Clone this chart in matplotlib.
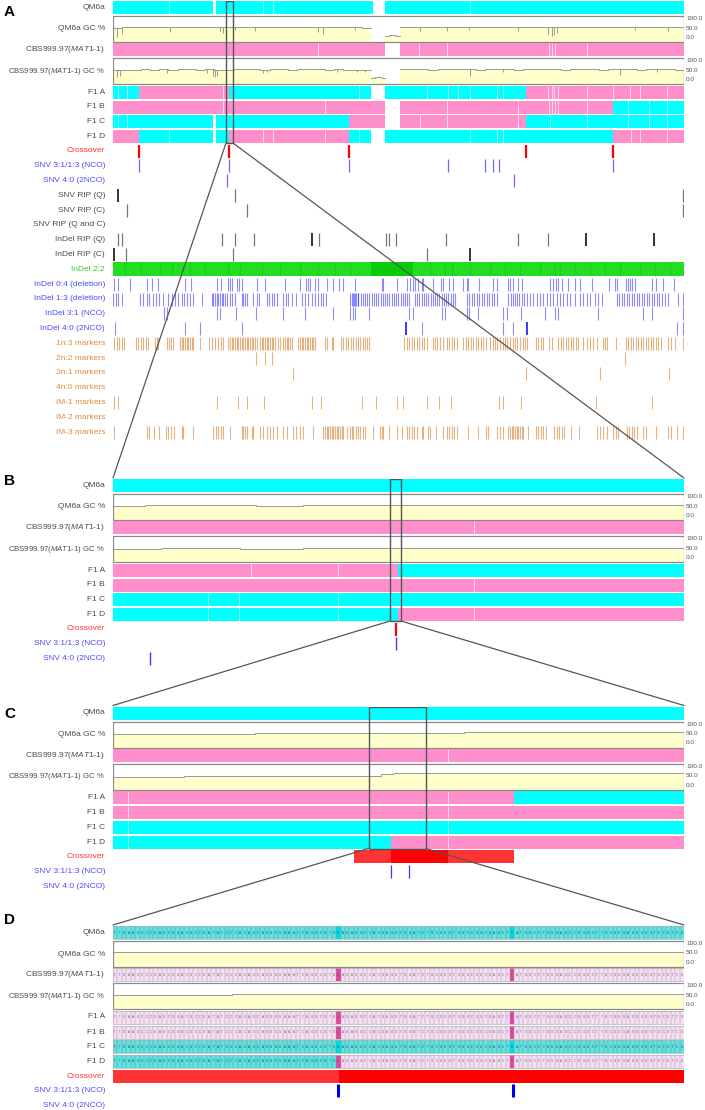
import numpy as np
import matplotlib.pyplot as plt
from matplotlib.patches import Rectangle, ConnectionPatch

plt.rcParams['font.family'] = ['Liberation Sans', 'DejaVu Sans']
plt.rcParams['mathtext.fontset'] = 'custom'
plt.rcParams['mathtext.rm'] = 'Liberation Sans'
plt.rcParams['mathtext.it'] = 'Liberation Sans:italic'

W, H = 705, 1110
X0, X1 = 113, 684          # window of every panel, in its own position units

CYAN = '#00ffff'
PINK = '#ff8fca'
GENO = {'Q': CYAN, 'C': PINK}
GC_FILL = '#ffffcc'
GC_LINE = '#8c8c8c'
BOX = '#8a8a8a'
RED = '#ff0000'
LBL_GRAY = '#4d4d4d'
LBL_RED = '#ff3333'
LBL_BLUE = '#4c4cff'
LBL_GREEN = '#2ecc2e'
LBL_ORANGE = '#e08c3a'
TICK_BLUE = '#0000ff'
ORANGE = '#d2731c'

# ---------------- panel A data (positions in window units) ----------------
A_SEGS = {
    'QM6a': [(113, 213, 'Q'), (216, 373, 'Q'), (385, 684, 'Q')],
    'CBS': [(113, 385, 'C'), (400, 684, 'C')],
    'F1 A': [(113, 139, 'Q'), (139, 229.3, 'C'), (229.3, 371, 'Q'), (385, 526, 'Q'), (526, 684, 'C')],
    'F1 B': [(113, 385, 'C'), (400, 612.7, 'C'), (612.7, 684, 'Q')],
    'F1 C': [(113, 213, 'Q'), (216, 349.3, 'Q'), (349.3, 385, 'C'), (400, 526, 'C'), (526, 684, 'Q')],
    'F1 D': [(113, 139, 'C'), (139, 213, 'Q'), (216, 229.3, 'Q'), (229.3, 349.3, 'C'), (349.3, 371, 'Q'),
             (385, 612.7, 'Q'), (612.7, 684, 'C')],
}
A_BOUNDS = {
    'QM6a': [168.7, 263.3, 273.3, 470],
    'CBS': [318, 419.3, 446.7, 549.3, 551.7, 555, 586.7],
    'F1 A': [118.3, 126.7, 222.7, 359.3, 426.7, 448.3, 458.3, 470, 496.7, 502.7, 548.3, 551.7, 554,
             558.3, 586.7, 613.3, 630, 640, 666.7],
    'F1 B': [222.7, 325, 446.7, 518.3, 549.3, 551.7, 555, 558.3, 586.7, 628.3, 649.3, 666.7],
    'F1 C': [118.3, 126.7, 420, 446.7, 518.3, 550, 586.7, 628.3, 649.3, 666.7],
    'F1 D': [169.3, 263.3, 273.3, 325, 359.3, 470, 496.7, 502.7, 630.7, 640, 666.7],
}
A_QGC = [
    (113, 371, [51, 54, 55, 54, 56, 55, 54, 56, 55, 53, 55, 56, 54, 55, 57, 55, 54, 56, 55, 54,
                55, 56, 55, 54, 53, 55, 54, 52]),
    (385, 400, [10, 16, 14, 8]),
    (400, 684, [54, 56, 55, 57, 56, 55, 54, 56, 55, 55, 54, 56, 57, 55, 54, 55, 56, 55, 54, 55,
                56, 57, 55, 54, 56, 55, 57, 54, 55, 53]),
]
A_QGC_DIPS = [(116.7, 5), (121.7, 20), (170, 30), (220, 35), (223, 25), (235, 40), (255, 35),
              (318, 30), (323, 20), (355, 40), (420, 35), (446.7, 35), (469, 40), (518, 35),
              (548, 20), (551.7, 10), (554, 15), (557, 25), (635, 40), (668, 35)]
A_CGC = [
    (113, 371, [50, 53, 54, 55, 54, 55, 53, 55, 56, 54, 55, 54, 53, 55, 56, 55, 54, 56, 55, 54,
                55, 56, 55, 54, 55, 53, 54, 52]),
    (371, 385, [12, 18, 15, 10]),
    (400, 684, [55, 56, 55, 54, 56, 55, 57, 55, 54, 56, 55, 55, 54, 56, 55, 57, 55, 54, 55, 56,
                55, 54, 56, 57, 55, 54, 56, 55, 55, 54]),
]
A_CGC_DIPS = [(116.7, 15), (120, 20), (166.7, 35), (206.7, 35), (213.3, 20), (215, 15),
              (217.3, 20), (263.3, 35), (266.7, 40), (336.7, 40), (356.7, 40), (365, 40),
              (470, 20), (503.3, 40), (620, 25), (656.7, 40)]

A_CROSSOVER = [139, 229.3, 349.3, 526, 612.7]
A_SNV_NCO = [139, 229.3, 349.3, 448.3, 485, 492.7, 499.3, 612.7]
A_SNV_2NCO = [227, 514]
A_SNV_RIP_Q = {'dark': [118.3], 'light': [235, 683.3]}
A_SNV_RIP_C = {'dark': [], 'light': [126.7, 247.3, 683.3]}
A_SNV_RIP_QC = {'dark': [], 'light': []}
A_INDEL_RIP_Q = {'dark': [312.3, 586.3, 654],
                 'light': [118.3, 122.3, 222, 235, 254.3, 319, 385.7, 389, 395.7, 446.3, 518.3, 548.3]}
A_INDEL_RIP_C = {'dark': [114, 470.3], 'light': [126.3, 233.3, 427]}
A_INDEL22_DARK = [125, 141, 160, 172, 190, 205, 228, 240, 262, 280, 300, 318, 335, 350,
                  430, 445, 452, 470, 490, 505, 520, 540, 555, 560, 575, 590, 605, 620, 640, 655, 670]
A_INDEL22_DENSE = [(371, 413)]
A_INDEL_04 = [114.3, 117.7, 130, 147.3, 151.7, 158.3, 185, 191, 216.7, 221, 227.7, 230, 232.3, 236.7,
              239, 242.3, 256.7, 265, 285, 300, 306, 307.7, 310, 315, 318.3, 326.7, 332.7, 339.3,
              343.3, 355, 381.7, 383.3, 396.7, 406.7, 410, 412.7, 415, 418.3, 421.7, 423.3, 432.7,
              441, 443.3, 449, 452.7, 463.3, 466.7, 468.3, 479.3, 492.7, 496.7, 508.3, 510, 513.3,
              518.3, 521.7, 550, 553.3, 556, 558.3, 561.7, 567.7, 575, 580, 591.7, 609.3, 615,
              616.7, 625.7, 628.3, 630, 632.3, 635, 651.7, 656, 663.3, 674]
A_INDEL_13 = [113.3, 116, 118.3, 121.7, 140, 142.7, 146.7, 149.3, 152.7, 156, 159, 162.7, 168.3,
              171.7, 175, 178.3, 181.7, 184, 186.7, 190, 192.7, 201.7, 211.7, 213.3, 215, 216.7,
              218.3, 220, 221.7, 223.3, 225, 226.7, 230, 232.3, 235, 241.7, 243.3, 245, 246.7,
              253.3, 256.7, 259.3, 266.7, 269.3, 271.7, 274, 276.7, 283.3, 286, 288.3, 291.7, 296,
              301.7, 305, 308.3, 311.7, 315, 318.3, 320.7, 323.3, 325.7, 350, 352.7, 355, 358.3,
              351.7, 354, 356, 358.3, 360.7, 362.7, 365, 367.3, 369.3, 371.7, 374, 376, 378.3,
              380.7, 382.7, 385, 387.3, 389.3, 391.7, 394, 396, 398.3, 400.7, 402.7, 405, 407.3,
              409.3, 415, 416.7, 419.3, 421.7, 424, 426, 428.3, 430.7, 432.7, 435, 437.3, 439.3,
              441.7, 444, 446, 448.3, 450.7, 452.7, 455, 466.7, 469.3, 471.7, 474, 476.7, 479.3,
              481.7, 484, 486.7, 489.3, 491.7, 494, 496.7, 508.3, 510.7, 512.7, 515, 517.3, 519.3,
              521.7, 524, 526.7, 530, 533.3, 536.7, 540, 543.3, 546.7, 550, 553.3, 556.7, 560,
              563.3, 566.7, 570, 575, 580, 583.3, 586.7, 590, 595, 598.3, 601.7, 616.7, 619.3,
              621.7, 624, 626.7, 629.3, 631.7, 634, 636.7, 639.3, 641.7, 644, 646.7, 649.3, 651.7,
              654, 656.7, 659.3, 661.7, 665, 668.3, 678.3, 683.3]
A_INDEL_31 = [164, 166.7, 217.3, 220, 236, 256, 282.7, 305, 333.3, 350, 352.7, 355, 369.3, 409.3,
              413.3, 441.7, 445, 467.3, 469.3, 477.7, 503.3, 507.3, 520.7, 545, 555, 558.3, 598.3,
              643.3, 651.7, 683.3]
A_INDEL_40 = {'dark': [406, 526.7], 'light': [115, 185, 200, 242.3, 421.7, 503.3, 512.7, 677.3, 683.3]}
A_M1N3 = [114.3, 116.7, 119.3, 121.7, 124, 136, 138.3, 140.7, 143.3, 145.7, 148.3, 155, 156.7, 158.3,
          166.7, 169, 170.7, 172.7, 180, 181.7, 183.3, 185, 186.7, 188.3, 190, 191.7, 193.3, 200,
          209.3, 211.7, 215, 218.3, 220.7, 222.7, 228.3, 230, 231.7, 233.3, 235, 236.7, 238.3, 240,
          241.7, 243.3, 245, 246.7, 248.3, 250, 251.7, 253.3, 255, 256.7, 260, 261.7, 263.3, 265,
          266.7, 268.3, 270, 271.7, 273.3, 275, 278.3, 280, 283.3, 285, 286.7, 288.3, 290, 291.7,
          298.3, 300, 301.7, 303.3, 305, 306.7, 308.3, 310, 311.7, 313.3, 315, 325, 326.7, 331.7,
          333.3, 340.7, 343.3, 346, 348.3, 350.7, 353.3, 356, 358.3, 360, 362.7, 365, 367.3, 369.3,
          404, 406.7, 409.3, 411.7, 414, 416.7, 419.3, 421.7, 424, 426.7, 432.7, 435, 437.3, 440,
          442.7, 446.7, 449.3, 451.7, 454, 456.7, 463.3, 466, 468.3, 470.7, 473.3, 476, 478.3,
          480.7, 483.3, 486, 490, 492.7, 495, 497.3, 500, 502.7, 505, 507.3, 510, 512.7, 515,
          517.3, 520, 522.7, 525, 527.3, 536, 538.3, 540.7, 543.3, 549.3, 551.7, 558.3, 560.7,
          563.3, 566, 568.3, 570.7, 573.3, 576, 578.3, 583.3, 586.7, 590, 593.3, 596.7, 602.7, 605,
          607.3, 616, 626, 628.3, 630.7, 633.3, 636, 638.3, 640.7, 643.3, 646, 648.3, 650.7, 653.3,
          656, 658.3, 660.7, 668.3, 670.7, 675, 683.3]
A_M2N2 = [256, 265, 271.7, 625]
A_M3N1 = [292.7, 526, 600, 669.3]
A_M4N0 = []
A_IM1 = [114, 118.3, 216.7, 237.7, 246.7, 264, 312.3, 321, 361.7, 376, 397.3, 403.3, 427.3, 439.3,
         450.7, 499.3, 503.3, 520.7, 596, 651.7]
A_IM2 = []
A_IM3 = [114, 146.7, 149.3, 154, 159.3, 165.7, 168.3, 170.7, 174, 181.7, 183.3, 193.3, 213.3, 216,
         218.3, 220.7, 223.3, 230, 241.7, 243.3, 245, 246.7, 251.7, 253.3, 260, 263.3, 266.7, 270,
         273.3, 276.7, 283.3, 286.7, 293.3, 296, 300, 303.3, 312.7, 323.3, 325, 326.7, 328.3, 330,
         331.7, 333.3, 335, 336.7, 338.3, 340, 341.7, 343.3, 346.7, 350, 351.7, 353.3, 356, 358.3,
         360, 362.7, 365, 372.7, 380, 381.7, 383.3, 389.3, 397.3, 401.7, 407.3, 409.3, 411.7, 414,
         416.7, 421.7, 423.3, 428.3, 430, 436, 443.3, 446.7, 449.3, 451.7, 454, 456.7, 468.3, 478.3,
         486, 488.3, 497.3, 500, 502.7, 508.3, 510, 511.7, 513.3, 515, 516.7, 518.3, 520, 521.7,
         523.3, 528.3, 536, 538.3, 540.7, 543.3, 546, 554, 556.7, 559.3, 561.7, 564, 570.7, 579.3,
         597.3, 600, 602.7, 606.7, 613.3, 616, 618.3, 626.7, 629.3, 631.7, 634, 636.7, 643.3, 646,
         656, 668.3, 670.7, 676.7, 683.3]
A_ZOOM = (226, 233)

# ---------------- panel B data ----------------
B_SEGS = {
    'QM6a': [(113, 684, 'Q')],
    'CBS': [(113, 684, 'C')],
    'F1 A': [(113, 397.7, 'C'), (397.7, 684, 'Q')],
    'F1 B': [(113, 684, 'C')],
    'F1 C': [(113, 684, 'Q')],
    'F1 D': [(113, 397.7, 'Q'), (397.7, 684, 'C')],
}
B_BOUNDS = {'QM6a': [], 'CBS': [474], 'F1 A': [251, 338], 'F1 B': [474],
            'F1 C': [208, 239, 338], 'F1 D': [208, 239, 338, 474]}
B_QGC = [(113, 684, [52, 52, 53, 55, 55, 55, 56, 54, 53, 51, 51, 51, 53, 57, 57, 55, 54, 54, 55, 55,
                     54, 53, 53, 54, 54, 54, 55, 55, 55, 56, 56, 55, 55, 54, 55, 56])]
B_CGC = [(113, 684, [48, 49, 49, 51, 52, 52, 52, 51, 49, 47, 47, 48, 50, 53, 53, 52, 51, 51, 52, 52,
                     51, 50, 50, 51, 51, 52, 52, 52, 51, 52, 53, 53, 52, 51, 52, 53])]
B_CROSSOVER = [395.5]
B_SNV_NCO = [395.5]
B_SNV_2NCO = [150]
B_ZOOM = (390, 401)

# ---------------- panel C data ----------------
C_SEGS = {
    'QM6a': [(113, 684, 'Q')],
    'CBS': [(113, 684, 'C')],
    'F1 A': [(113, 514, 'C'), (514, 684, 'Q')],
    'F1 B': [(113, 684, 'C')],
    'F1 C': [(113, 684, 'Q')],
    'F1 D': [(113, 391, 'Q'), (391, 684, 'C')],
}
C_BOUNDS = {'QM6a': [], 'CBS': [448], 'F1 A': [127.5, 448], 'F1 B': [127.5, 448],
            'F1 C': [127.5, 448], 'F1 D': [127.5, 448]}
C_QGC_EDGES = [113, 255, 464, 674, 684]
C_QGC_VALS = [48, 55, 58, 56]
C_CGC_EDGES = [113, 184, 381, 393, 579, 684]
C_CGC_VALS = [44, 50, 60, 63, 65]
C_CROSSOVER = [(354, 391, 'weak'), (391, 448, 'strong'), (448, 514, 'weak')]
C_SNV_NCO = [391, 408.6]
C_ZOOM = (368.5, 426)

# ---------------- panel D data ----------------
D_LEFT = 'TTGAAGCCCGAGCGGACGCCGATATCCCACAGCAGGGGAAATCAGGCGTG'
D_MID = 'AGAGGCCACGAGGTGGATCTGCGGGTGGGCGGCGAGCT'
D_RIGHT = 'ATGGCCTGGGAGCCGGGCTTGCGGGAGGGGGTGCGTCG'
D_SEQ_Q = D_LEFT + 'G' + D_MID + 'C' + D_RIGHT
D_SEQ_C = D_LEFT + 'A' + D_MID + 'T' + D_RIGHT
D_SNP_CELLS = [50, 89]
D_ROW_GENO = {'QM6a': 'Q', 'CBS': 'C', 'F1 A': 'C', 'F1 B': 'C', 'F1 C': 'Q', 'F1 D': 'QC'}
D_SWITCH_CELL = 50
D_QGC_EDGES = [113, 684]
D_QGC_VALS = [55]
D_CGC_EDGES = [113, 232, 684]
D_CGC_VALS = [53, 57]
D_CROSSOVER = [(113, 338.7, 'weak'), (338.7, 684, 'strong')]
D_SNV_NCO = [338, 513]

# ---------------- layout ----------------
GENOME_ROWS = {'QM6a': 0, 'CBS': 42.3, 'F1 A': 84.5, 'F1 B': 99.5, 'F1 C': 114.3, 'F1 D': 129}
GC_ROWS = {'QM6a': 15, 'CBS': 57.3}
ROW_H, GC_H = 13, 26
TRACK0, STEP = 150, 14.8
LABEL_X = 105
FS = 6.0
CBS_NAME = r'CBS999.97($\it{MAT1}$-$\it{1}$)'
NAMES = {'QM6a': 'QM6a', 'CBS': CBS_NAME, 'F1 A': 'F1 A', 'F1 B': 'F1 B', 'F1 C': 'F1 C', 'F1 D': 'F1 D'}

fig = plt.figure(figsize=(W / 100, H / 100), dpi=100)
fig.patch.set_facecolor('white')


def panel_axes(top, bottom):
    ax = fig.add_axes([X0 / W, 1 - bottom / H, (X1 - X0) / W, (bottom - top) / H])
    ax.set_xlim(X0, X1)
    ax.set_ylim(bottom - top, 0)
    ax.axis('off')
    return ax


def label(ax, y, text, color=LBL_GRAY, fs=FS):
    ax.text(LABEL_X, y, text, ha='right', va='center', fontsize=fs, color=color)


def genome_row(ax, name, segs, bounds):
    y = GENOME_ROWS[name]
    for s, e, g in segs:
        ax.add_patch(Rectangle((s, y), e - s, ROW_H, fc=GENO[g], ec='none', zorder=2))
    if bounds:
        ax.vlines(bounds, y, y + ROW_H, colors='white', lw=0.6, alpha=0.75, zorder=3)
    label(ax, y + ROW_H / 2, NAMES[name])


def gc_to_y(y, v):
    return y + 22 - np.asarray(v, dtype=float) / 100 * 20


def gc_box(ax, name, parts, dips=()):
    y = GC_ROWS[name]
    ax.add_patch(Rectangle((X0, y), X1 - X0, GC_H, fc='white', ec='none', zorder=1))
    for edges, vals in parts:
        ys = gc_to_y(y, list(vals) + [vals[-1]])
        ax.fill_between(edges, ys, y + GC_H, step='post', color=GC_FILL, lw=0, zorder=2)
        ax.step(edges, ys, where='post', color=GC_LINE, lw=0.6, zorder=3)
        for p, dv in dips:
            if edges[0] <= p <= edges[-1]:
                i = min(np.searchsorted(edges, p, side='right') - 1, len(vals) - 1)
                ax.vlines(p, gc_to_y(y, vals[i]), gc_to_y(y, dv), colors=GC_LINE, lw=0.6, zorder=3)
    ax.add_patch(Rectangle((X0, y), X1 - X0, GC_H, fc='none', ec=BOX, lw=0.9, zorder=4))
    for txt, dy in (('100.0', 2.5), ('50.0', 12), ('0.0', 21.5)):
        ax.text(X1 + 2, y + dy, txt, ha='left', va='center', fontsize=4.6, color='#555555')
    label(ax, y + GC_H / 2, NAMES[name] + ' GC %', fs=FS if name == 'QM6a' else 5.6)


def even_parts(parts):
    return [(np.linspace(s, e, len(v) + 1), v) for s, e, v in parts]


def track_y(i):
    return TRACK0 + i * STEP


def ticks(ax, i, xs, color, lw=0.8, alpha=1.0, half=6.5):
    if len(xs):
        yc = track_y(i)
        ax.vlines(xs, yc - half, yc + half, colors=color, lw=lw, alpha=alpha, zorder=3)


def bands(ax, i, spans, half=6.5):
    yc = track_y(i)
    for s, e, kind in spans:
        ax.add_patch(Rectangle((s, yc - half), e - s, 2 * half,
                               fc=RED if kind == 'strong' else '#ff3333', ec='none', zorder=3))


def header(ax, segs, bounds, qgc, cgc, qdips=(), cdips=()):
    for name in GENOME_ROWS:
        genome_row(ax, name, segs[name], bounds[name])
    gc_box(ax, 'QM6a', qgc, qdips)
    gc_box(ax, 'CBS', cgc, cdips)


def zoom_box(ax_parent, ax_child, span):
    bottom = GENOME_ROWS['F1 D'] + ROW_H
    ax_parent.add_patch(Rectangle((span[0], 0), span[1] - span[0], bottom,
                                  fc='none', ec='#555555', lw=1.0, zorder=6))
    for xa, xb in ((span[0], X0), (span[1], X1)):
        con = ConnectionPatch(xyA=(xa, bottom), coordsA=ax_parent.transData,
                              xyB=(xb, -1), coordsB=ax_child.transData,
                              color='#555555', lw=0.9, zorder=10)
        fig.add_artist(con)


# ---------------- panel A ----------------
axA = panel_axes(1, 445)
header(axA, A_SEGS, A_BOUNDS, even_parts(A_QGC), even_parts(A_CGC), A_QGC_DIPS, A_CGC_DIPS)

a_tracks = [
    ('Crossover', LBL_RED), ('SNV 3:1/1:3 (NCO)', LBL_BLUE), ('SNV 4:0 (2NCO)', LBL_BLUE),
    ('SNV RIP (Q)', LBL_GRAY), ('SNV RIP (C)', LBL_GRAY), ('SNV RIP (Q and C)', LBL_GRAY),
    ('InDel RIP (Q)', LBL_GRAY), ('InDel RIP (C)', LBL_GRAY), ('InDel 2:2', LBL_GREEN),
    ('InDel 0:4 (deletion)', LBL_BLUE), ('InDel 1:3 (deletion)', LBL_BLUE),
    ('InDel 3:1 (NCO)', LBL_BLUE), ('InDel 4:0 (2NCO)', LBL_BLUE),
    ('1n:3 markers', LBL_ORANGE), ('2n:2 markers', LBL_ORANGE), ('3n:1 markers', LBL_ORANGE),
    ('4n:0 markers', LBL_ORANGE), ('IM-1 markers', LBL_ORANGE), ('IM-2 markers', LBL_ORANGE),
    ('IM-3 markers', LBL_ORANGE),
]
for i, (t, c) in enumerate(a_tracks):
    label(axA, track_y(i), t, c)

ticks(axA, 0, A_CROSSOVER, RED, lw=1.6)
ticks(axA, 1, A_SNV_NCO, '#6a6aff', lw=0.9)
ticks(axA, 2, A_SNV_2NCO, '#6a6aff', lw=0.9)
for i, d in ((3, A_SNV_RIP_Q), (4, A_SNV_RIP_C), (5, A_SNV_RIP_QC), (6, A_INDEL_RIP_Q), (7, A_INDEL_RIP_C)):
    ticks(axA, i, d['light'], '#777777', lw=0.9)
    ticks(axA, i, d['dark'], '#111111', lw=1.2)
yc = track_y(8)
axA.add_patch(Rectangle((X0, yc - 7), X1 - X0, 14, fc='#22dd22', ec='none', zorder=2))
ticks(axA, 8, A_INDEL22_DARK, '#00b400', lw=1.0, alpha=0.25, half=7)
for s, e in A_INDEL22_DENSE:
    axA.add_patch(Rectangle((s, yc - 7), e - s, 14, fc='#08cc08', ec='none', zorder=3))
ticks(axA, 9, A_INDEL_04, TICK_BLUE, lw=0.8, alpha=0.45)
ticks(axA, 10, A_INDEL_13, TICK_BLUE, lw=0.8, alpha=0.45)
ticks(axA, 11, A_INDEL_31, TICK_BLUE, lw=0.8, alpha=0.45)
ticks(axA, 12, A_INDEL_40['light'], TICK_BLUE, lw=0.8, alpha=0.45)
ticks(axA, 12, A_INDEL_40['dark'], TICK_BLUE, lw=1.1)
for i, xs in ((13, A_M1N3), (14, A_M2N2), (15, A_M3N1), (16, A_M4N0), (17, A_IM1), (18, A_IM2), (19, A_IM3)):
    ticks(axA, i, xs, ORANGE, lw=0.8, alpha=0.55)

# ---------------- panel B ----------------
axB = panel_axes(479, 675)
header(axB, B_SEGS, B_BOUNDS, even_parts(B_QGC), even_parts(B_CGC))
label(axB, track_y(0), 'Crossover', LBL_RED)
label(axB, track_y(1), 'SNV 3:1/1:3 (NCO)', LBL_BLUE)
label(axB, track_y(2), 'SNV 4:0 (2NCO)', LBL_BLUE)
ticks(axB, 0, B_CROSSOVER, RED, lw=1.6)
ticks(axB, 1, B_SNV_NCO, '#3a3aff', lw=1.0)
ticks(axB, 2, B_SNV_2NCO, '#3a3aff', lw=1.0)

# ---------------- panel C ----------------
axC = panel_axes(706.5, 895)
header(axC, C_SEGS, C_BOUNDS, [(C_QGC_EDGES, C_QGC_VALS)], [(C_CGC_EDGES, C_CGC_VALS)])
label(axC, track_y(0), 'Crossover', LBL_RED)
label(axC, track_y(1), 'SNV 3:1/1:3 (NCO)', LBL_BLUE)
label(axC, track_y(2), 'SNV 4:0 (2NCO)', LBL_BLUE)
bands(axC, 0, C_CROSSOVER)
ticks(axC, 1, C_SNV_NCO, '#3a3aff', lw=0.9)

# ---------------- panel D ----------------
axD = panel_axes(926, 1110)
n = len(D_SEQ_Q)
edges = np.linspace(X0, X1, n + 1)
cell_bg = {'Q': '#62e2e2', 'C': '#f6dff2'}
cell_snp = {'Q': '#00dfe8', 'C': '#e2479f'}
cell_grid = {'Q': '#2f8f8f', 'C': '#a088a0'}
cell_txt = {'Q': '#244848', 'C': '#6a5a6a'}
for name, y in GENOME_ROWS.items():
    g = D_ROW_GENO[name]
    kinds = [g[0] if (len(g) == 1 or k < D_SWITCH_CELL) else g[1] for k in range(n)]
    for k in range(n):
        kd = kinds[k]
        fc = cell_snp[kd] if k in D_SNP_CELLS else cell_bg[kd]
        axD.add_patch(Rectangle((edges[k], y), edges[k + 1] - edges[k], ROW_H, fc=fc, ec='none', zorder=2))
        base = D_SEQ_Q[k] if kd == 'Q' else D_SEQ_C[k]
        axD.text((edges[k] + edges[k + 1]) / 2, y + ROW_H / 2, base, ha='center', va='center',
                 fontsize=2.1, color=cell_txt[kd], zorder=4)
        axD.vlines(edges[k], y, y + ROW_H, colors=cell_grid[kd], lw=0.3, zorder=3)
    axD.add_patch(Rectangle((X0, y), X1 - X0, ROW_H, fc='none', ec='#b0b0b0', lw=0.5, zorder=4))
    label(axD, y + ROW_H / 2, NAMES[name])
gc_box(axD, 'QM6a', [(D_QGC_EDGES, D_QGC_VALS)])
gc_box(axD, 'CBS', [(D_CGC_EDGES, D_CGC_VALS)])
label(axD, track_y(0), 'Crossover', LBL_RED)
label(axD, track_y(1), 'SNV 3:1/1:3 (NCO)', LBL_BLUE)
label(axD, track_y(2), 'SNV 4:0 (2NCO)', LBL_BLUE)
bands(axD, 0, D_CROSSOVER)
ticks(axD, 1, D_SNV_NCO, '#0000ee', lw=2.2)

# ---------------- zoom connections ----------------
zoom_box(axA, axB, A_ZOOM)
zoom_box(axB, axC, B_ZOOM)
zoom_box(axC, axD, C_ZOOM)

for letter, ypix in (('A', 12), ('B', 481), ('C', 714), ('D', 920)):
    fig.text(4 / W, 1 - ypix / H, letter, ha='left', va='center', fontsize=11, fontweight='bold')

fig.savefig('out.png', dpi=100)
